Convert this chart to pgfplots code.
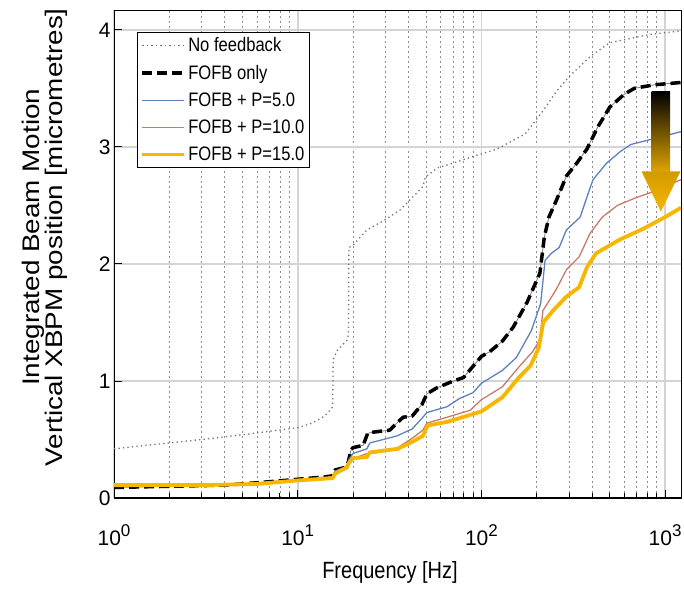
\documentclass[border=0pt]{standalone}
\usepackage{fontspec}
\setmainfont{Liberation Sans}
\newfontfamily\narrowfont[FakeStretch=0.85]{Liberation Sans}
\newfontfamily\widefont[FakeStretch=1.16]{Liberation Sans}
\usepackage{pgfplots}
\pgfplotsset{compat=1.18}
\definecolor{fbblue}{RGB}{94,129,189}
\definecolor{fbred}{RGB}{200,122,108}
\definecolor{fbgold}{RGB}{247,182,0}
\newcommand\tsup[1]{\raisebox{0.42em}{\fontsize{17}{17}\selectfont #1}}

\begin{document}
\begin{tikzpicture}
\begin{axis}[
  at={(0pt,0pt)}, anchor=south west,
  scale only axis, width=567pt, height=487.5pt,
  xmode=log, xmin=1, xmax=1220, ymin=0, ymax=4.165,
  xtick={1,10,100,1000},
  xticklabels={10\tsup{0},10\tsup{1},10\tsup{2},10\tsup{3}},
  ytick={0,1,2,3,4},
  /pgf/number format/assume math mode=true,
  tick pos=left, tick align=inside,
  major tick length=8pt, minor tick length=5pt,
  every tick/.style={black, line width=0.9pt},
  xmajorgrids, ymajorgrids, xminorgrids,
  major grid style={draw=black!17, line width=1.6pt},
  minor grid style={draw=black!45, line width=0.8pt, dash pattern=on 2pt off 3pt},
  axis line style={line width=0.9pt},
  ticklabel style={font=\fontsize{21}{21}\selectfont},
  xticklabel style={anchor=base, yshift=-47pt},
  legend style={at={(rel axis cs:0.0406,0.956)}, anchor=north west, draw=black,
    line width=0.9pt, font=\narrowfont\fontsize{19.5}{21}\selectfont,
    inner xsep=3pt, inner ysep=3pt, row sep=8pt, cells={anchor=west}},
  legend image code/.code={\draw[#1] (0pt,0pt) -- (42pt,0pt);},
  every axis plot/.append style={line join=round},
]
% no feedback
\addplot[black!55, line width=1.3pt, dash pattern=on 1.3pt off 3.2pt] coordinates {
(1,0.42) (1.5,0.45) (2,0.47) (3,0.5) (5,0.54) (7,0.57) (10,0.6) (12,0.64) (14,0.7)
(15.2,0.76) (15.5,0.78) (15.6,1.18) (16.4,1.26) (18.6,1.35) (18.9,1.4) (19.0,2.14)
(20,2.16) (23.8,2.29) (29.4,2.37) (36,2.46) (41,2.55) (48,2.66) (49.5,2.74) (57.5,2.82)
(70,2.86) (95,2.93) (121,2.98) (173,3.11) (217,3.31) (255,3.47) (300,3.6) (390,3.77)
(500,3.89) (620,3.92) (820,3.96) (1220,3.99)};
\addlegendentry{No feedback}
% FOFB only
\addplot[black!50, line width=0.8pt, forget plot] coordinates {
(1,0.09) (2,0.1) (4,0.11) (6,0.13) (10,0.16) (14,0.18) (15.5,0.19) (16,0.24) (18,0.26)
(18.8,0.3) (19.5,0.41) (20,0.43) (22.7,0.45) (24,0.55) (25,0.56) (31.7,0.58) (34.6,0.64)
(37.5,0.69) (42,0.7) (47.5,0.8) (50.5,0.89) (57,0.94) (68,0.99) (80,1.03) (100,1.21)
(111,1.25) (130,1.34) (149,1.46) (177,1.67) (208,1.92) (220,2.23) (233,2.4) (257,2.55)
(290,2.75) (330,2.86) (375,2.98) (430,3.17) (500,3.34) (600,3.45) (680,3.5) (870,3.53)
(1220,3.55)};
\addplot[black, line width=3.5pt, dash pattern=on 10pt off 5pt] coordinates {
(1,0.09) (2,0.1) (4,0.11) (6,0.13) (10,0.16) (14,0.18) (15.5,0.19) (16,0.24) (18,0.26)
(18.8,0.3) (19.5,0.41) (20,0.43) (22.7,0.45) (24,0.55) (25,0.56) (31.7,0.58) (34.6,0.64)
(37.5,0.69) (42,0.7) (47.5,0.8) (50.5,0.89) (57,0.94) (68,0.99) (80,1.03) (100,1.21)
(111,1.25) (130,1.34) (149,1.46) (177,1.67) (208,1.92) (220,2.23) (233,2.4) (257,2.55)
(290,2.75) (330,2.86) (375,2.98) (430,3.17) (500,3.34) (600,3.45) (680,3.5) (870,3.53)
(1220,3.55)};
\addlegendentry{FOFB only}
% P = 5
\addplot[fbblue, line width=1.3pt] coordinates {
(1,0.1) (5,0.12) (10,0.15) (15.5,0.18) (16,0.23) (18.5,0.27) (19,0.33) (20,0.38)
(23.8,0.42) (24.7,0.47) (34.6,0.53) (42,0.59) (48,0.69) (50.5,0.73) (65,0.78) (76,0.85)
(90,0.9) (100,0.98) (130,1.09) (155,1.2) (187,1.43) (210,1.66) (222,2.03) (240,2.09) (265,2.14)
(290,2.29) (345,2.4) (375,2.57) (405,2.72) (480,2.86) (570,2.96) (650,3.02) (870,3.07)
(1220,3.13)};
\addlegendentry{FOFB + P=5.0}
% P = 10
\addplot[fbred, line width=1.3pt] coordinates {
(1,0.1) (5,0.12) (10,0.15) (15.5,0.18) (16,0.22) (18.5,0.26) (19.5,0.33) (23.8,0.38)
(28,0.39) (35,0.43) (42,0.51) (48,0.58) (50.5,0.64) (65,0.69) (87,0.75) (100,0.84)
(130,0.95) (160,1.12) (190,1.25) (208,1.35) (216,1.6) (255,1.78) (290,1.95) (340,2.06) (390,2.26)
(455,2.4) (550,2.5) (680,2.56) (870,2.62) (1220,2.72)};
\addlegendentry{FOFB + P=10.0}
% P = 15
\addplot[fbgold, line width=3.8pt] coordinates {
(1,0.11) (3,0.11) (6,0.12) (10,0.15) (15.5,0.17) (16,0.21) (18.5,0.26) (19,0.3) (20,0.34)
(23.8,0.35) (24.7,0.39) (35,0.42) (42,0.48) (48,0.53) (51,0.62) (65,0.65) (87,0.71)
(100,0.74) (130,0.86) (160,1.03) (185,1.13) (205,1.28) (217,1.5) (245,1.6) (290,1.72) (340,1.8)
(375,1.97) (420,2.09) (570,2.21) (760,2.3) (1000,2.4) (1220,2.48)};
\addlegendentry{FOFB + P=15.0}
% arrow
\shade[top color=black, bottom color=fbgold!90!black] (axis cs:844,3.47) rectangle (axis cs:1064,2.79);
\shade[top color=fbgold!85!black, bottom color=fbgold] (axis cs:744,2.79) -- (axis cs:1211,2.79) -- (axis cs:948,2.445) -- cycle;
\end{axis}
\draw[line width=2.5pt] (0pt,0pt) -- (567pt,0pt);
\node[rotate=90, align=center, font=\widefont\fontsize{24}{21}\selectfont] at (-69pt,260.8pt)
  {Integrated Beam Motion\\Vertical XBPM position [micrometres]};
\node[anchor=base, font=\narrowfont\fontsize{23.5}{24}\selectfont] at (276pt,-80pt) {Frequency [Hz]};
\pgfresetboundingbox
\path (-114pt,-90pt) rectangle (570pt,498pt);
\end{tikzpicture}
\end{document}
